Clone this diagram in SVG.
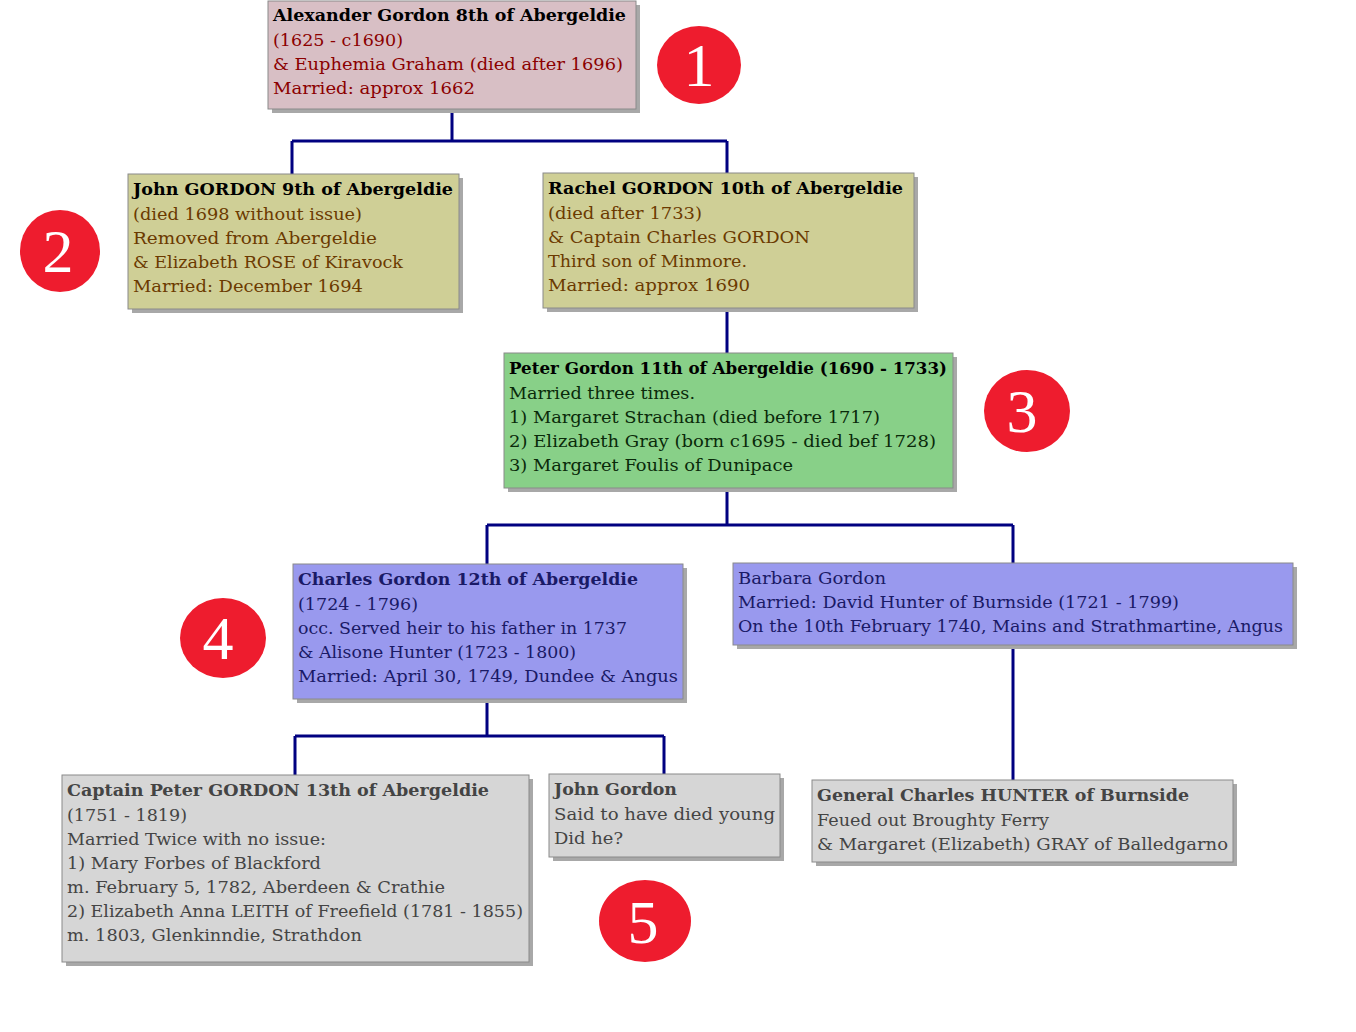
<svg xmlns="http://www.w3.org/2000/svg" width="1356" height="1032" viewBox="0 0 1356 1032">
<defs>
<style>
.box{stroke:#8a8a8a;stroke-width:1}
.sh{fill:#a8a8a8}
text{font-family:"DejaVu Serif","Liberation Serif",serif;font-size:17.5px}
.t{font-weight:bold}
.c{fill:none;stroke:#000080;stroke-width:3}
.badge{fill:#ee1c2e}
.num{font-family:"Liberation Serif","DejaVu Serif",serif;font-size:62px;fill:#ffffff;text-anchor:middle}
.pink{fill:#d8bfc5}.khaki{fill:#cfcf96}.green{fill:#88d088}.blue{fill:#9999ee}.gray{fill:#d6d6d6}
.tp{fill:#8b0000}.tk{fill:#6b3a00}.tg{fill:#0a2a0a}.tb{fill:#1a1a66}.tgr{fill:#444444}
</style>
</defs>
<rect width="1356" height="1032" fill="#ffffff"/>
<g id="connectors">
<path class="c" d="M452,110V141M292,141H727M292,141V174M727,141V173"/>
<path class="c" d="M727,308V353"/>
<path class="c" d="M727,488V525M487,525H1013M487,525V564M1013,525V563"/>
<path class="c" d="M487,699V736M295,736H664M295,736V775M664,736V774"/>
<path class="c" d="M1013,645V780"/>
</g>
<g id="n1">
<rect class="sh" x="272" y="5" width="368" height="108"/>
<rect class="box pink" x="268" y="1" width="368" height="108"/>
<text x="273" y="21" class="t" fill="#000" textLength="353" lengthAdjust="spacingAndGlyphs">Alexander Gordon 8th of Abergeldie</text>
<text x="273" y="46" class="tp" textLength="130" lengthAdjust="spacingAndGlyphs">(1625 - c1690)</text>
<text x="273" y="70" class="tp" textLength="350" lengthAdjust="spacingAndGlyphs">&amp; Euphemia Graham (died after 1696)</text>
<text x="273" y="94" class="tp" textLength="202" lengthAdjust="spacingAndGlyphs">Married: approx 1662</text>
</g>
<g id="n2">
<rect class="sh" x="132" y="178" width="331" height="135"/>
<rect class="box khaki" x="128" y="174" width="331" height="135"/>
<text x="133" y="195" class="t" fill="#000" textLength="320" lengthAdjust="spacingAndGlyphs">John GORDON 9th of Abergeldie</text>
<text x="133" y="220" class="tk" textLength="229" lengthAdjust="spacingAndGlyphs">(died 1698 without issue)</text>
<text x="133" y="244" class="tk" textLength="244" lengthAdjust="spacingAndGlyphs">Removed from Abergeldie</text>
<text x="133" y="268" class="tk" textLength="270" lengthAdjust="spacingAndGlyphs">&amp; Elizabeth ROSE of Kiravock</text>
<text x="133" y="292" class="tk" textLength="230" lengthAdjust="spacingAndGlyphs">Married: December 1694</text>
</g>
<g id="n3">
<rect class="sh" x="547" y="177" width="371" height="135"/>
<rect class="box khaki" x="543" y="173" width="371" height="135"/>
<text x="548" y="194" class="t" fill="#000" textLength="355" lengthAdjust="spacingAndGlyphs">Rachel GORDON 10th of Abergeldie</text>
<text x="548" y="219" class="tk" textLength="154" lengthAdjust="spacingAndGlyphs">(died after 1733)</text>
<text x="548" y="243" class="tk" textLength="262" lengthAdjust="spacingAndGlyphs">&amp; Captain Charles GORDON</text>
<text x="548" y="267" class="tk" textLength="199" lengthAdjust="spacingAndGlyphs">Third son of Minmore.</text>
<text x="548" y="291" class="tk" textLength="202" lengthAdjust="spacingAndGlyphs">Married: approx 1690</text>
</g>
<g id="n4">
<rect class="sh" x="508" y="357" width="449" height="135"/>
<rect class="box green" x="504" y="353" width="449" height="135"/>
<text x="509" y="374" class="t" fill="#000" textLength="438" lengthAdjust="spacingAndGlyphs">Peter Gordon 11th of Abergeldie (1690 - 1733)</text>
<text x="509" y="399" class="tg" textLength="186" lengthAdjust="spacingAndGlyphs">Married three times.</text>
<text x="509" y="423" class="tg" textLength="371" lengthAdjust="spacingAndGlyphs">1) Margaret Strachan (died before 1717)</text>
<text x="509" y="447" class="tg" textLength="427" lengthAdjust="spacingAndGlyphs">2) Elizabeth Gray (born c1695 - died bef 1728)</text>
<text x="509" y="471" class="tg" textLength="284" lengthAdjust="spacingAndGlyphs">3) Margaret Foulis of Dunipace</text>
</g>
<g id="n5">
<rect class="sh" x="297" y="568" width="390" height="135"/>
<rect class="box blue" x="293" y="564" width="390" height="135"/>
<text x="298" y="585" class="t tb" textLength="340" lengthAdjust="spacingAndGlyphs">Charles Gordon 12th of Abergeldie</text>
<text x="298" y="610" class="tb" textLength="120" lengthAdjust="spacingAndGlyphs">(1724 - 1796)</text>
<text x="298" y="634" class="tb" textLength="329" lengthAdjust="spacingAndGlyphs">occ. Served heir to his father in 1737</text>
<text x="298" y="658" class="tb" textLength="278" lengthAdjust="spacingAndGlyphs">&amp; Alisone Hunter (1723 - 1800)</text>
<text x="298" y="682" class="tb" textLength="380" lengthAdjust="spacingAndGlyphs">Married: April 30, 1749, Dundee &amp; Angus</text>
</g>
<g id="n6">
<rect class="sh" x="737" y="567" width="560" height="82"/>
<rect class="box blue" x="733" y="563" width="560" height="82"/>
<text x="738" y="584" class="tb" textLength="148" lengthAdjust="spacingAndGlyphs">Barbara Gordon</text>
<text x="738" y="608" class="tb" textLength="441" lengthAdjust="spacingAndGlyphs">Married: David Hunter of Burnside (1721 - 1799)</text>
<text x="738" y="632" class="tb" textLength="545" lengthAdjust="spacingAndGlyphs">On the 10th February 1740, Mains and Strathmartine, Angus</text>
</g>
<g id="n7">
<rect class="sh" x="66" y="779" width="467" height="187"/>
<rect class="box gray" x="62" y="775" width="467" height="187"/>
<text x="67" y="796" class="t tgr" textLength="422" lengthAdjust="spacingAndGlyphs">Captain Peter GORDON 13th of Abergeldie</text>
<text x="67" y="821" class="tgr" textLength="120" lengthAdjust="spacingAndGlyphs">(1751 - 1819)</text>
<text x="67" y="845" class="tgr" textLength="259" lengthAdjust="spacingAndGlyphs">Married Twice with no issue:</text>
<text x="67" y="869" class="tgr" textLength="254" lengthAdjust="spacingAndGlyphs">1) Mary Forbes of Blackford</text>
<text x="67" y="893" class="tgr" textLength="378" lengthAdjust="spacingAndGlyphs">m. February 5, 1782, Aberdeen &amp; Crathie</text>
<text x="67" y="917" class="tgr" textLength="456" lengthAdjust="spacingAndGlyphs">2) Elizabeth Anna LEITH of Freefield (1781 - 1855)</text>
<text x="67" y="941" class="tgr" textLength="295" lengthAdjust="spacingAndGlyphs">m. 1803, Glenkinndie, Strathdon</text>
</g>
<g id="n8">
<rect class="sh" x="553" y="778" width="231" height="83"/>
<rect class="box gray" x="549" y="774" width="231" height="83"/>
<text x="554" y="795" class="t tgr" textLength="123" lengthAdjust="spacingAndGlyphs">John Gordon</text>
<text x="554" y="820" class="tgr" textLength="221" lengthAdjust="spacingAndGlyphs">Said to have died young</text>
<text x="554" y="844" class="tgr" textLength="69" lengthAdjust="spacingAndGlyphs">Did he?</text>
</g>
<g id="n9">
<rect class="sh" x="816" y="784" width="421" height="82"/>
<rect class="box gray" x="812" y="780" width="421" height="82"/>
<text x="817" y="801" class="t tgr" textLength="372" lengthAdjust="spacingAndGlyphs">General Charles HUNTER of Burnside</text>
<text x="817" y="826" class="tgr" textLength="232" lengthAdjust="spacingAndGlyphs">Feued out Broughty Ferry</text>
<text x="817" y="850" class="tgr" textLength="411" lengthAdjust="spacingAndGlyphs">&amp; Margaret (Elizabeth) GRAY of Balledgarno</text>
</g>
<g id="badges">
<ellipse class="badge" cx="699" cy="65" rx="42" ry="39"/>
<text class="num" x="699" y="86">1</text>
<ellipse class="badge" cx="60" cy="251" rx="40" ry="41"/>
<text class="num" x="58" y="272">2</text>
<ellipse class="badge" cx="1027" cy="411" rx="43" ry="41"/>
<text class="num" x="1022" y="432">3</text>
<ellipse class="badge" cx="223" cy="638" rx="43" ry="40"/>
<text class="num" x="218" y="659">4</text>
<ellipse class="badge" cx="645" cy="921" rx="46" ry="41"/>
<text class="num" x="643" y="943">5</text>
</g>
</svg>
